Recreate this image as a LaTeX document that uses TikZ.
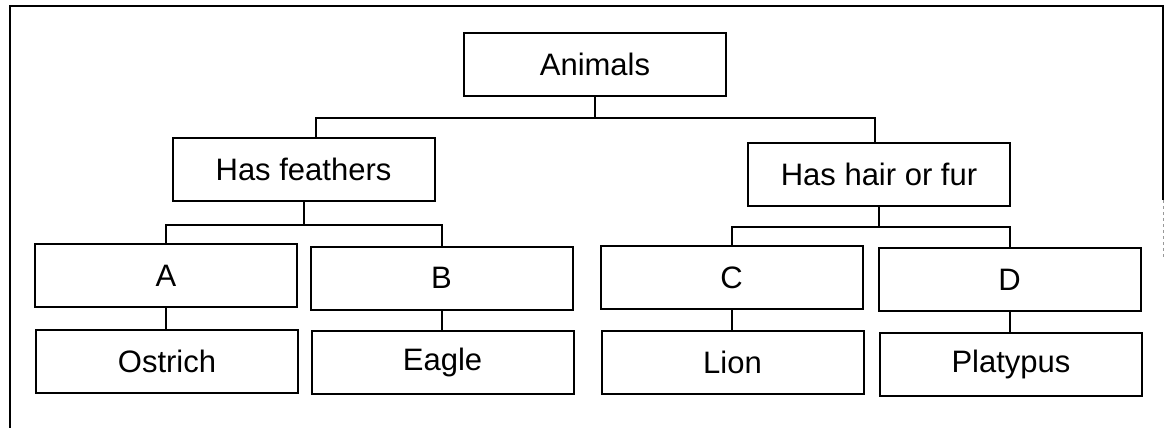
\documentclass[tikz,border=0pt]{standalone}
\usepackage{fontspec}
\setmainfont{Liberation Sans}
\usetikzlibrary{positioning}
\tikzstyle{box}=[rectangle, draw=black, line width=2pt, minimum width=262pt, minimum height=63pt, inner sep=0pt, font=\fontsize{31}{36}\selectfont]
\tikzstyle{link}=[draw=black, line width=2pt]

\begin{document}
\begin{tikzpicture}[x=1pt,y=1pt]
        \useasboundingbox (0,0) rectangle (1167,-428);

        % Frame
        \draw [link] (10,-428) -- (10,-6) -- (1163,-6) -- (1163,-200);
        \draw [black!40, line width=1pt, dashed] (1163,-200) -- (1163,-258);

        % Root
        \node at (595,-64.5) [box] (animals) {Animals};

        % Classes
        \node at (303.5,-169) [box] (feathers) {Has feathers};
        \node at (879,-174) [box] (hair) {Has hair or fur};

        % Letters
        \foreach \n/\x/\y in {A/166/275.5, B/441.5/278, C/731.5/277.5, D/1009.5/279.5}
          \node at (\x,-\y) [box] (letter_\n) {\n};

        % Animals
        \foreach \n/\a/\x/\y in {A/Ostrich/167/361, B/Eagle/442.5/362, C/Lion/732.5/362, D/Platypus/1011/364}
          \node at (\x,-\y) [box] (animal_\n) {\a};

        % Links
        \draw [link] (animals.south) -- ++(0,-21) -| ([xshift=12pt]feathers.north);
        \draw [link] (animals.south) -- ++(0,-21) -| ([xshift=-4pt]hair.north);

        \foreach \n in {A,B}
          \draw [link] (feathers.south) -- ++(0,-23.5) -| (letter_\n.north);
        \foreach \n in {C,D}
          \draw [link] (hair.south) -- ++(0,-20.5) -| (letter_\n.north);

        \foreach \n in {A,...,D}
          \draw [link] (letter_\n.south) -- (letter_\n.south |- animal_\n.north);
      \end{tikzpicture}
\end{document}
